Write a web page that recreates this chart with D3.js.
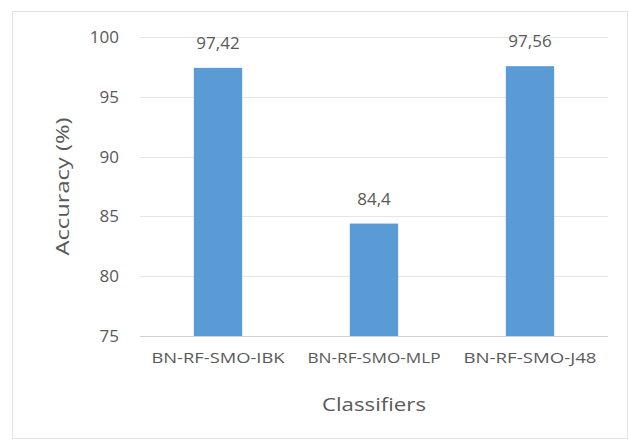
<!DOCTYPE html>
<html>
<head>
<meta charset="utf-8">
<script src="https://cdn.jsdelivr.net/npm/d3@7"></script>
<style>
  html, body { margin: 0; padding: 0; background: #fff; }
  svg { display: block; }
  text { font-family: "Open Sans", "Noto Sans", sans-serif; fill: #595959; }
</style>
</head>
<body>
<svg id="chart" width="629" height="446"></svg>
<script>
// Classifier accuracies (%)
const classifiers = ["BN-RF-SMO-IBK", "BN-RF-SMO-MLP", "BN-RF-SMO-J48"];
const accuracy = [97.42, 84.4, 97.56];
const accuracyLabels = ["97,42", "84,4", "97,56"];
const yTicks = [75, 80, 85, 90, 95, 100];

const svg = d3.select("#chart");
const W = 629, H = 446;
const margin = { left: 140, right: 21, top: 37, bottom: 110 };

// Chart frame
svg.append("rect")
  .attr("x", 12.5).attr("y", 11.5)
  .attr("width", W - 14).attr("height", 427)
  .attr("fill", "#fff").attr("stroke", "#e3e3e3").attr("stroke-width", 1);

const x = d3.scaleBand()
  .domain(classifiers)
  .range([margin.left, W - margin.right])
  .paddingInner(0.69).paddingOuter(0.345);

const y = d3.scaleLinear()
  .domain([75, 100])
  .range([H - margin.bottom, margin.top]);

// Horizontal gridlines
svg.append("g")
  .selectAll("line")
  .data(yTicks)
  .join("line")
  .attr("x1", margin.left).attr("x2", W - margin.right)
  .attr("y1", d => Math.round(y(d)) + 0.5).attr("y2", d => Math.round(y(d)) + 0.5)
  .attr("stroke", d => d === 75 ? "#d0d0d0" : "#e6e6e6")
  .attr("stroke-width", 1);

// Y axis tick labels
const yAxis = d3.axisLeft(y).tickValues(yTicks).tickSize(0).tickPadding(0);
svg.append("g")
  .attr("transform", `translate(${119},0)`)
  .call(yAxis)
  .call(g => g.select(".domain").remove())
  .call(g => g.selectAll("text")
    .style("font-family", '"Open Sans", sans-serif')
    .attr("font-size", 17).attr("fill", "#595959"));

// Bars
svg.append("g")
  .selectAll("rect")
  .data(classifiers)
  .join("rect")
  .attr("x", d => x(d))
  .attr("width", x.bandwidth())
  .attr("y", (d, i) => y(accuracy[i]))
  .attr("height", (d, i) => y(75) - y(accuracy[i]))
  .attr("fill", "#5b9bd5");

// Value labels
svg.append("g")
  .selectAll("text")
  .data(classifiers)
  .join("text")
  .attr("x", d => x(d) + x.bandwidth() / 2)
  .attr("y", (d, i) => y(accuracy[i]) - 19)
  .attr("text-anchor", "middle")
  .attr("font-size", 17)
  .text((d, i) => accuracyLabels[i]);

// X axis category labels
const xAxis = d3.axisBottom(x).tickSize(0).tickPadding(0);
svg.append("g")
  .attr("transform", `translate(0,${y(75) + 17})`)
  .call(xAxis)
  .call(g => g.select(".domain").remove())
  .call(g => g.selectAll("text")
    .style("font-family", '"Open Sans", sans-serif')
    .attr("font-size", 14).attr("fill", "#595959")
    .attr("textLength", 133).attr("lengthAdjust", "spacingAndGlyphs"));

// Axis titles
svg.append("text")
  .attr("x", 374)
  .attr("y", 411)
  .attr("text-anchor", "middle")
  .attr("font-size", 18)
  .attr("textLength", 104).attr("lengthAdjust", "spacingAndGlyphs")
  .text("Classifiers");

svg.append("text")
  .attr("transform", `translate(69,${(y(75) + y(100)) / 2}) rotate(-90)`)
  .attr("text-anchor", "middle")
  .attr("font-size", 18)
  .attr("textLength", 138).attr("lengthAdjust", "spacingAndGlyphs")
  .text("Accuracy (%)");
</script>
</body>
</html>
